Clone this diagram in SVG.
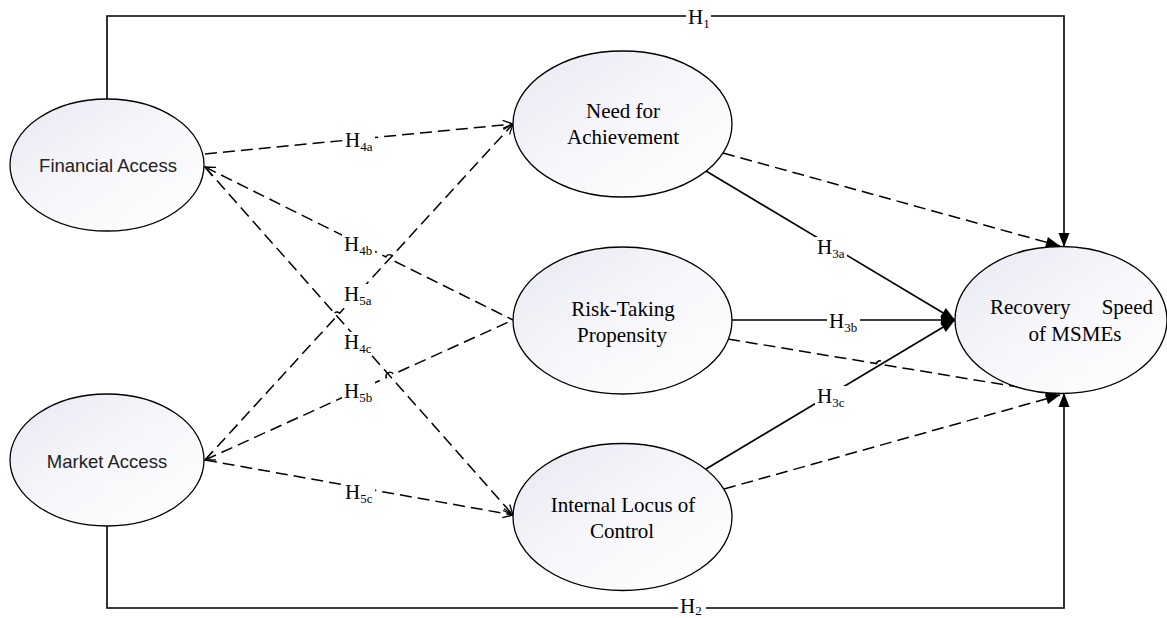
<svg xmlns="http://www.w3.org/2000/svg" width="1167" height="618" viewBox="0 0 1167 618">
<style>
.node{stroke:#000;stroke-width:1.3;fill:url(#g)}
.sans{font-family:"Liberation Sans",Arial,sans-serif;font-size:18.5px;fill:#222}
.serif{font-family:"Liberation Serif","Times New Roman",serif;font-size:21px;fill:#000}
.solid{fill:none;stroke:#000;stroke-width:1.6}
.dash{fill:none;stroke:#000;stroke-width:1.5;stroke-dasharray:12 6}
.lbg{fill:#fff}
.lab{font-family:"Liberation Serif","Times New Roman",serif;font-size:21px;fill:#000}
.sub{font-size:13px}
</style>
<defs>
<linearGradient id="g" x1="0" y1="0" x2="1" y2="1">
<stop offset="0" stop-color="#e8e8f3"/>
<stop offset="0.55" stop-color="#f8f8fc"/>
<stop offset="1" stop-color="#ffffff"/>
</linearGradient>
<marker id="fa" viewBox="-15 -6 16 12" refX="0" refY="0" markerWidth="16" markerHeight="12" markerUnits="userSpaceOnUse" orient="auto" overflow="visible">
<path d="M0,0 L-14,-5.5 L-14,5.5 Z" fill="#000"/>
</marker>
<marker id="oa" viewBox="-12 -6 13 12" refX="0" refY="0" markerWidth="13" markerHeight="12" markerUnits="userSpaceOnUse" orient="auto-start-reverse" overflow="visible">
<path d="M-10,-4.5 L0,0 L-10,4.5" fill="none" stroke="#000" stroke-width="1.3"/>
</marker>
</defs>
<rect width="1167" height="618" fill="#fff"/>

<g id="connectors">
<path class="solid" d="M107,99 V16 H1064 V247" marker-end="url(#fa)"/>
<path class="solid" d="M107,526 V608 H1064 V393" marker-end="url(#fa)"/>
<path class="solid" d="M706,171 L955,320" marker-end="url(#fa)"/>
<path class="solid" d="M732,320 L955,320" marker-end="url(#fa)"/>
<path class="solid" d="M706,469 L955,320" marker-end="url(#fa)"/>
<path class="dash" d="M723,153 L1060,246" marker-end="url(#fa)"/>
<path class="dash" d="M728,339 L876.5,363.6 A4,4 0 0 1 884.3,364.9 L1060,394" marker-end="url(#fa)"/>
<path class="dash" d="M724,489 L1060,395" marker-end="url(#fa)"/>
<path class="dash" d="M205,154 L513,124" marker-end="url(#oa)"/>
<path class="dash" d="M205,167 L385.9,256.9 A4,4 0 0 1 393.1,260.5 L513,320" marker-start="url(#oa)"/>
<path class="dash" d="M205,167 L513,515" marker-end="url(#oa)"/>
<path class="dash" d="M205,460 L334.2,319.1 A4,4 0 0 1 339.6,313.2 L513,124" marker-end="url(#oa)"/>
<path class="dash" d="M205,460 L386.3,377.6 A4,4 0 0 1 393.5,374.2 L513,320" marker-start="url(#oa)"/>
<path class="dash" d="M205,460 L513,515" marker-end="url(#oa)"/>
</g>

<g id="labels">
<rect class="lbg" x="686" y="6" width="25" height="22"/>
<text class="lab" x="688" y="24">H<tspan class="sub" dy="4">1</tspan></text>
<rect class="lbg" x="678" y="597" width="28" height="21"/>
<text class="lab" x="680" y="613">H<tspan class="sub" dy="2">2</tspan></text>
<rect class="lbg" x="343" y="130" width="32" height="22"/>
<text class="lab" x="345" y="147">H<tspan class="sub" dy="4">4a</tspan></text>
<rect class="lbg" x="342" y="234" width="33" height="22"/>
<text class="lab" x="344" y="251">H<tspan class="sub" dy="4">4b</tspan></text>
<rect class="lbg" x="342" y="284" width="33" height="22"/>
<text class="lab" x="344" y="301">H<tspan class="sub" dy="4">5a</tspan></text>
<rect class="lbg" x="342" y="332" width="33" height="22"/>
<text class="lab" x="344" y="349">H<tspan class="sub" dy="4">4c</tspan></text>
<rect class="lbg" x="342" y="381" width="33" height="22"/>
<text class="lab" x="344" y="398">H<tspan class="sub" dy="4">5b</tspan></text>
<rect class="lbg" x="343" y="482" width="32" height="22"/>
<text class="lab" x="345" y="499">H<tspan class="sub" dy="4">5c</tspan></text>
<rect class="lbg" x="815" y="237" width="32" height="22"/>
<text class="lab" x="817" y="254">H<tspan class="sub" dy="4">3a</tspan></text>
<rect class="lbg" x="827" y="311" width="33" height="22"/>
<text class="lab" x="829" y="328">H<tspan class="sub" dy="4">3b</tspan></text>
<rect class="lbg" x="815" y="386" width="32" height="22"/>
<text class="lab" x="817" y="403">H<tspan class="sub" dy="4">3c</tspan></text>
</g>

<g id="financial-access">
<ellipse class="node" cx="107" cy="165" rx="97" ry="66"/>
<text class="sans" x="108" y="172" text-anchor="middle">Financial Access</text>
</g>
<g id="market-access">
<ellipse class="node" cx="107" cy="460" rx="97" ry="66"/>
<text class="sans" x="107" y="468" text-anchor="middle">Market Access</text>
</g>
<g id="need-for-achievement">
<ellipse class="node" cx="622.5" cy="124" rx="109.5" ry="73"/>
<text class="serif" x="623" y="118" text-anchor="middle">Need for</text>
<text class="serif" x="623" y="144" text-anchor="middle">Achievement</text>
</g>
<g id="risk-taking">
<ellipse class="node" cx="622.5" cy="320.5" rx="109.5" ry="73.5"/>
<text class="serif" x="623" y="316" text-anchor="middle">Risk-Taking</text>
<text class="serif" x="622" y="342" text-anchor="middle">Propensity</text>
</g>
<g id="internal-locus">
<ellipse class="node" cx="622.5" cy="517" rx="109.5" ry="73.5"/>
<text class="serif" x="623" y="512" text-anchor="middle">Internal Locus of</text>
<text class="serif" x="622" y="538" text-anchor="middle">Control</text>
</g>
<g id="recovery-speed">
<ellipse class="node" cx="1061" cy="320" rx="106" ry="73.5"/>
<text class="serif" x="990" y="314">Recovery</text>
<text class="serif" x="1153" y="314" text-anchor="end">Speed</text>
<text class="serif" x="1075" y="341" text-anchor="middle">of MSMEs</text>
</g>
</svg>
